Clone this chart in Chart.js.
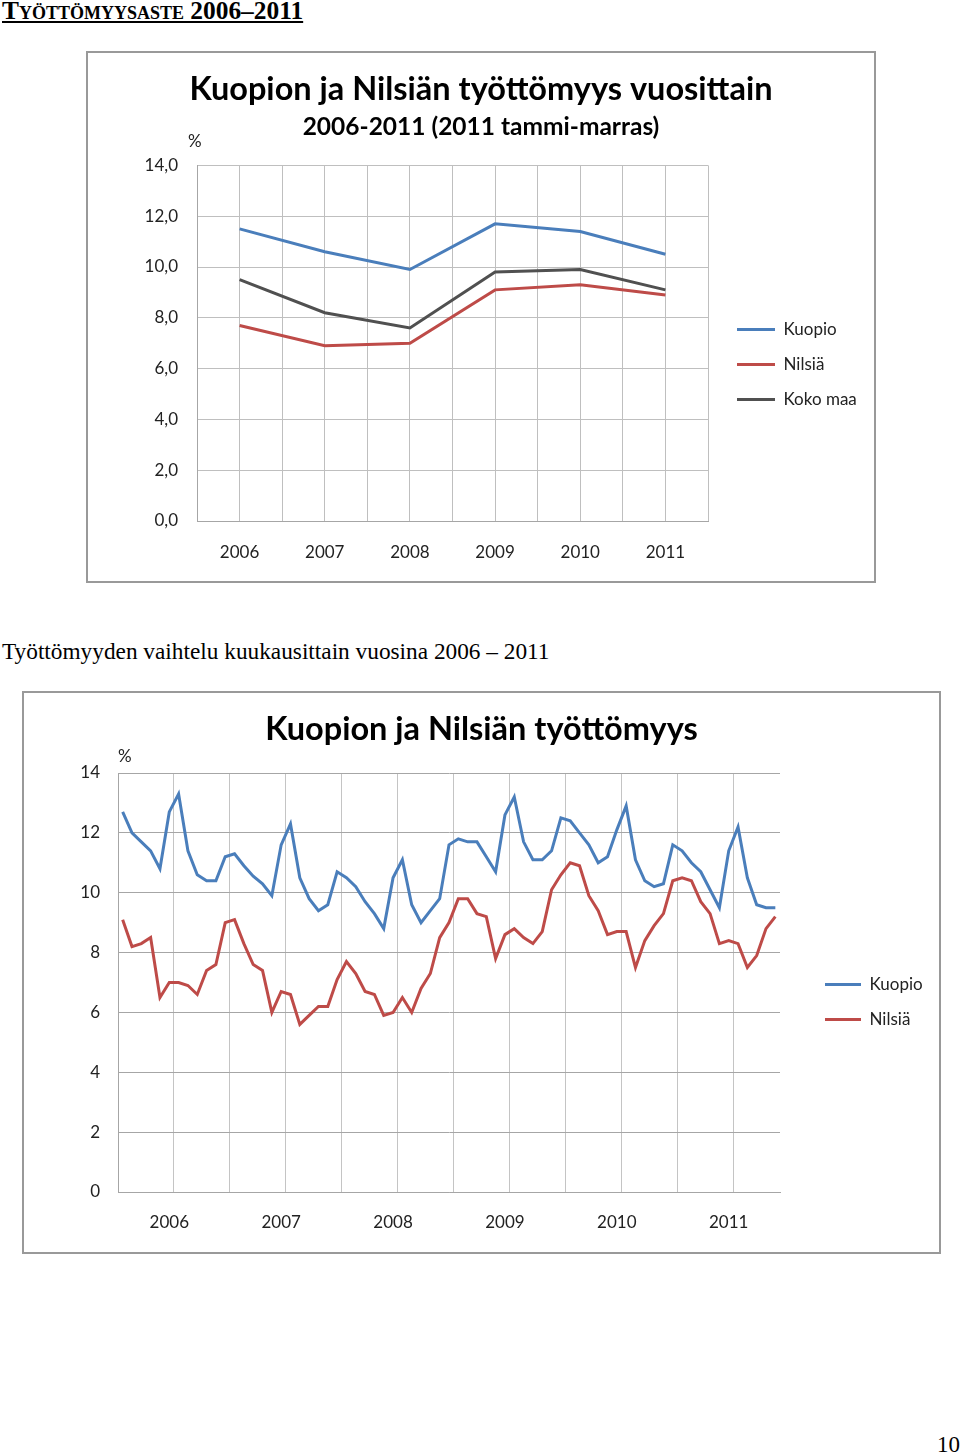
<!DOCTYPE html>
<html>
<head>
<meta charset="utf-8">
<script src="https://cdn.jsdelivr.net/npm/chart.js@4.4.0/dist/chart.umd.min.js"></script>
<style>
  body { margin: 0; background: #fff; width: 960px; height: 1453px; position: relative; overflow: hidden;
         font-family: 'Liberation Serif', 'Times New Roman', serif; color: #000; }
  .heading { position: absolute; left: 2px; top: -2px; font-size: 25.4px; line-height: 1; font-weight: bold;
             font-variant: small-caps; text-decoration: underline; white-space: nowrap; }
  .caption { position: absolute; left: 2px; top: 640px; font-size: 23.3px; line-height: 1; white-space: nowrap; }
  .pageno { position: absolute; left: 937px; top: 1433px; font-size: 23px; line-height: 1; }
  .frame { position: absolute; box-sizing: border-box; border: 2px solid #999; background: #fff; }
  .frame canvas { display: block; }
  .pct { position: absolute; font: 17px Lato, sans-serif; line-height: 1; color: #222; }
</style>
</head>
<body>
<div class="heading">Työttömyysaste 2006–2011</div>

<div class="frame" style="left:86px; top:51px; width:790px; height:532px;">
  <canvas id="yearly" width="786" height="528"></canvas>
</div>
<span class="pct" style="left:188px; top:132px;">%</span>

<div class="caption">Työttömyyden vaihtelu kuukausittain vuosina 2006 – 2011</div>

<div class="frame" style="left:22px; top:691px; width:919px; height:563px;">
  <canvas id="monthly" width="915" height="559"></canvas>
</div>
<span class="pct" style="left:118px; top:747px;">%</span>

<div class="pageno">10</div>

<script>
// vuosittaiset luvut (%)
const years = ['2006', '2007', '2008', '2009', '2010', '2011'];
const kuopioYearly = [11.5, 10.6, 9.9, 11.7, 11.4, 10.5];
const nilsiaYearly = [7.7, 6.9, 7.0, 9.1, 9.3, 8.9];
const kokoMaaYearly = [9.5, 8.2, 7.6, 9.8, 9.9, 9.1];

// kuukausittaiset luvut 1/2006 - 11/2011 (%)
const kuopioMonthly = [
  12.7, 12.0, 11.7, 11.4, 10.8, 12.7, 13.3, 11.4, 10.6, 10.4, 10.4, 11.2,
  11.3, 10.9, 10.55, 10.3, 9.9, 11.6, 12.3, 10.5, 9.8, 9.4, 9.6, 10.7,
  10.5, 10.2, 9.7, 9.3, 8.8, 10.5, 11.1, 9.6, 9.0, 9.4, 9.8, 11.6,
  11.8, 11.7, 11.7, 11.2, 10.7, 12.6, 13.2, 11.7, 11.1, 11.1, 11.4, 12.5,
  12.4, 12.0, 11.6, 11.0, 11.2, 12.1, 12.9, 11.1, 10.4, 10.2, 10.3, 11.6,
  11.4, 11.0, 10.7, 10.1, 9.5, 11.4, 12.2, 10.5, 9.6, 9.5, 9.5
];
const nilsiaMonthly = [
  9.1, 8.2, 8.3, 8.5, 6.5, 7.0, 7.0, 6.9, 6.6, 7.4, 7.6, 9.0,
  9.1, 8.3, 7.6, 7.4, 6.0, 6.7, 6.6, 5.6, 5.9, 6.2, 6.2, 7.1,
  7.7, 7.3, 6.7, 6.6, 5.9, 6.0, 6.5, 6.0, 6.8, 7.3, 8.5, 9.0,
  9.8, 9.8, 9.3, 9.2, 7.8, 8.6, 8.8, 8.5, 8.3, 8.7, 10.1, 10.6,
  11.0, 10.9, 9.9, 9.4, 8.6, 8.7, 8.7, 7.5, 8.4, 8.9, 9.3, 10.4,
  10.5, 10.4, 9.7, 9.3, 8.3, 8.4, 8.3, 7.5, 7.9, 8.8, 9.2
];

const BLUE = '#4a7ebb';
const RED = '#be4b48';
const GREY = '#505050';
const TEXT = '#222';

const monthLabels = years.flatMap(y => Array.from({ length: 12 }, (_, m) => y + '/' + (m + 1)))
  .slice(0, kuopioMonthly.length);

// siirtää selitteen haluttuun kohtaan (x = viivan alku, y = ensimmäisen rivin yläreuna)
const legendShift = {
  id: 'legendShift',
  afterUpdate(chart, args, opts) {
    const lg = chart.legend;
    if (!lg || opts.x === undefined) return;
    const pad = lg.options.labels.padding;
    const dx = opts.x - (lg.left + pad);
    const dy = opts.y - (lg.top + pad);
    lg.left += dx; lg.right += dx;
    lg.top += dy; lg.bottom += dy;
  }
};

function lato(size, weight) {
  return { family: 'Lato', size: size, weight: weight || 'normal' };
}

// sama reunus molemmille puolille, jotta otsikot pysyvät keskellä
function pinArea(chart, right) {
  const pad = chart.options.layout.padding;
  const p = pad.right + chart.chartArea.right - right;
  pad.left = p;
  pad.right = p;
  chart.update();
}

const yearlyChart = new Chart(document.getElementById('yearly'), {
  type: 'line',
  data: {
    datasets: [
      { label: 'Kuopio', data: years.map((y, i) => ({ x: +y, y: kuopioYearly[i] })), borderColor: BLUE, backgroundColor: BLUE },
      { label: 'Nilsiä', data: years.map((y, i) => ({ x: +y, y: nilsiaYearly[i] })), borderColor: RED, backgroundColor: RED },
      { label: 'Koko maa', data: years.map((y, i) => ({ x: +y, y: kokoMaaYearly[i] })), borderColor: GREY, backgroundColor: GREY }
    ]
  },
  options: {
    responsive: false,
    animation: false,
    layout: { padding: { left: 0, top: 0, right: 10, bottom: 0 } },
    elements: { point: { radius: 0 }, line: { borderWidth: 3, tension: 0 } },
    plugins: {
      title: { display: true, text: 'Kuopion ja Nilsiän työttömyys vuosittain', color: '#000',
               font: lato(32.5, 'bold'), padding: { top: 17, bottom: 2 } },
      subtitle: { display: true, text: '2006-2011 (2011 tammi-marras)', color: '#000',
                  font: lato(24.5, 'bold'), padding: { top: 1, bottom: 24 } },
      legend: { position: 'right', align: 'start',
                labels: { boxWidth: 38, boxHeight: 0, padding: 18, color: TEXT, font: lato(17) } },
      legendShift: { x: 649, y: 268 },
      tooltip: { enabled: false }
    },
    scales: {
      x: {
        type: 'linear', min: 2005.5, max: 2011.5,
        grid: { color: '#bfbfbf', drawTicks: false },
        border: { color: '#a6a6a6' },
        ticks: { stepSize: 0.5, autoSkip: false, maxRotation: 0, padding: 21, color: TEXT, font: lato(17),
                 callback: v => Number.isInteger(v) ? String(v) : '' },
        afterFit: s => { s.height = 60; }
      },
      y: {
        min: 0, max: 14,
        grid: { color: '#bfbfbf', drawTicks: false },
        border: { color: '#a6a6a6' },
        ticks: { stepSize: 2, padding: 19, color: TEXT, font: lato(17),
                 callback: v => v.toFixed(1).replace('.', ',') },
        afterFit: s => { s.width = 109 - s.chart.options.layout.padding.left; }
      }
    }
  },
  plugins: [legendShift]
});
pinArea(yearlyChart, 620);

const monthlyChart = new Chart(document.getElementById('monthly'), {
  type: 'line',
  data: {
    labels: monthLabels,
    datasets: [
      { label: 'Kuopio', data: kuopioMonthly, borderColor: BLUE, backgroundColor: BLUE },
      { label: 'Nilsiä', data: nilsiaMonthly, borderColor: RED, backgroundColor: RED }
    ]
  },
  options: {
    responsive: false,
    animation: false,
    layout: { padding: { left: 0, top: 0, right: 10, bottom: 0 } },
    elements: { point: { radius: 0 }, line: { borderWidth: 3, tension: 0 } },
    plugins: {
      title: { display: true, text: 'Kuopion ja Nilsiän työttömyys', color: '#000',
               font: lato(32.5, 'bold'), padding: { top: 17, bottom: 24 } },
      legend: { position: 'right', align: 'start',
                labels: { boxWidth: 36, boxHeight: 0, padding: 18, color: TEXT, font: lato(17) } },
      legendShift: { x: 801, y: 283 },
      tooltip: { enabled: false }
    },
    scales: {
      x: {
        offset: true,
        grid: { offset: true, drawTicks: false,
                color: c => c.index % 6 === 0 ? '#c4c4c4' : 'rgba(0,0,0,0)' },
        border: { color: '#a6a6a6' },
        ticks: { autoSkip: false, maxRotation: 0, padding: 20, color: TEXT, font: lato(17),
                 callback: (v, i) => i % 12 === 5 ? years[Math.floor(i / 12)] : '' },
        afterFit: s => { s.height = 60; }
      },
      y: {
        min: 0, max: 14,
        grid: { color: '#a6a6a6', drawTicks: false },
        border: { color: '#a6a6a6' },
        ticks: { stepSize: 2, padding: 18, color: TEXT, font: lato(17) },
        afterFit: s => { s.width = 94 - s.chart.options.layout.padding.left; }
      }
    }
  },
  plugins: [legendShift]
});
pinArea(monthlyChart, 756);
</script>
</body>
</html>
